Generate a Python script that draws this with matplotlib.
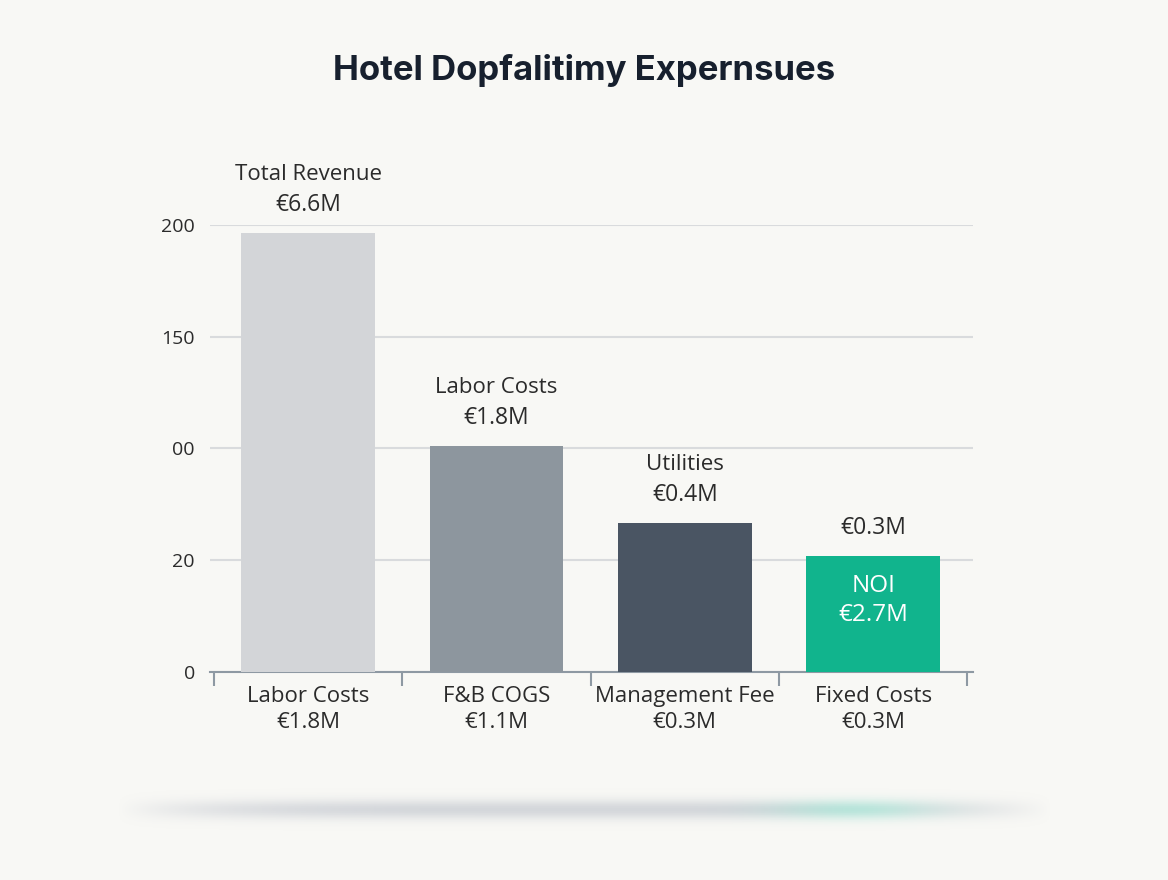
import numpy as np
import matplotlib.pyplot as plt
from matplotlib.colors import to_rgb

plt.rcParams['font.family'] = ['Open Sans', 'DejaVu Sans']

# chart values
categories = ['Labor Costs\n€1.8M', 'F&B COGS\n€1.1M', 'Management Fee\n€0.3M', 'Fixed Costs\n€0.3M']
values = [196.5, 101.3, 66.6, 51.9]
top_names = ['Total Revenue', 'Labor Costs', 'Utilities', '']
top_amounts = ['€6.6M', '€1.8M', '€0.4M', '€0.3M']
inner_label = 'NOI\n€2.7M'
ytick_vals = [0, 50, 100, 150, 200]
ytick_labels = ['0', '20', '00', '150', '200']
colors = ['#d3d5d8', '#8d969e', '#4a5563', '#11b48d']

bg = '#f8f8f5'
txt = '#2b2b2b'
fig = plt.figure(figsize=(11.68, 8.8), dpi=100, facecolor=bg)

# soft shadow strip under the chart
sh = fig.add_axes([0.10, 0.0, 0.80, 0.16])
w, h = 600, 80
xx = np.linspace(-1, 1, w)
yy = np.linspace(-1, 1, h)
X, Y = np.meshgrid(xx, yy)
alpha = np.exp(-(Y / 0.14) ** 2) * np.clip((1 - np.abs(X) ** 4), 0, 1) * 0.45
gray = np.array(to_rgb('#a9afbc'))
teal = np.array(to_rgb('#58c8b3'))
mix = np.exp(-((X - 0.59) / 0.17) ** 2)[..., None]
rgb = gray * (1 - mix) + teal * mix
img = np.dstack([rgb, alpha])
sh.imshow(img, aspect='auto', extent=[0, 1, 0, 1])
sh.axis('off')

ax = fig.add_axes([0.18, 0.2364, 0.653, 0.508])
ax.set_facecolor('none')
x = np.arange(len(values))
bars = ax.bar(x, values, width=0.71, color=colors, zorder=3)

ax.set_xlim(-0.52, 3.53)
ax.set_ylim(0, 200)
ax.set_yticks(ytick_vals)
ax.set_yticklabels(ytick_labels, fontsize=14, color=txt)
ax.grid(axis='y', color='#d9dbdd', lw=1.5, zorder=0)
ax.tick_params(axis='y', length=0, pad=11)

ax.set_xticks([-0.5, 0.5, 1.5, 2.5, 3.5])
ax.set_xticklabels([])
ax.tick_params(axis='x', direction='out', length=10, width=1.5, color='#8e99a3')
for xi, lab in zip(x, categories):
    ax.annotate(lab, (xi, 0), xytext=(0, -10), textcoords='offset points',
                ha='center', va='top', fontsize=16, color=txt, linespacing=1.3)

for s in ['top', 'right', 'left']:
    ax.spines[s].set_visible(False)
ax.spines['bottom'].set_color('#8e99a3')
ax.spines['bottom'].set_linewidth(1.5)

for xi, v, name, amt in zip(x, values, top_names, top_amounts):
    ax.annotate(amt, (xi, v), xytext=(0, 20), textcoords='offset points',
                ha='center', va='center', fontsize=16.5, color=txt, annotation_clip=False)
    if name:
        ax.annotate(name, (xi, v), xytext=(0, 42), textcoords='offset points',
                    ha='center', va='center', fontsize=16, color=txt, annotation_clip=False)

ax.text(x[3], values[3] / 2 + 6, inner_label, ha='center', va='center',
        fontsize=17.5, color='white', linespacing=1.25, zorder=4)

fig.text(0.5, 0.92, 'Hotel Dopfalitimy Expernsues', ha='center', va='center',
         fontsize=25, fontweight='bold', color='#17202e', family=['Inter', 'DejaVu Sans'])

fig.savefig('out.png', dpi=100, facecolor=bg)
